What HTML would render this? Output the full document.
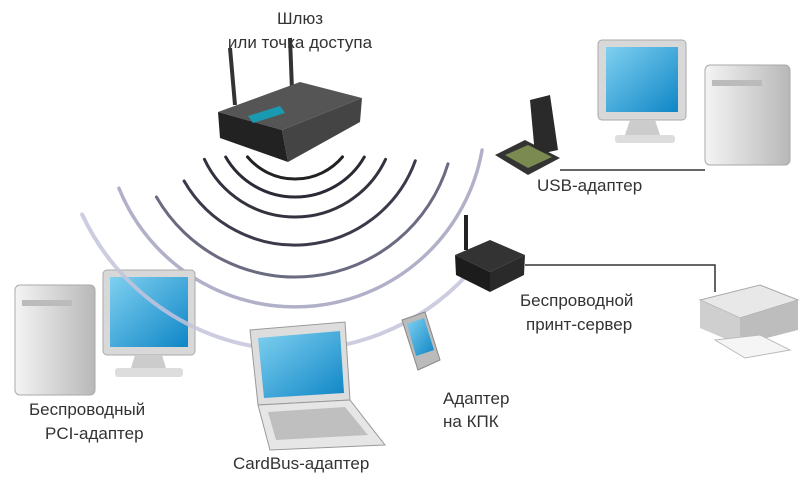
<!DOCTYPE html>
<html><head><meta charset="utf-8"><style>
body{margin:0;background:#fff;}
svg{display:block}
text{font-family:"Liberation Sans",sans-serif;font-size:17px;fill:#333;}
</style></head><body>
<svg width="800" height="496" viewBox="0 0 800 496" xmlns="http://www.w3.org/2000/svg">
<defs>
<linearGradient id="scr" x1="0" y1="0" x2="1" y2="1"><stop offset="0" stop-color="#7fd0f0"/><stop offset="1" stop-color="#0f86c6"/></linearGradient>
<linearGradient id="tow" x1="0" x2="1"><stop offset="0" stop-color="#f4f4f4"/><stop offset="1" stop-color="#b8b8b8"/></linearGradient>
</defs>
<!-- arcs -->
<g fill="none" stroke-linecap="round">
<path d="M118.9,188.2 A190,190 0 0 0 482.1,150" stroke="#b0b0c8" stroke-width="3.5"/>
<path d="M156.4,197 A160,160 0 0 0 448,163.8" stroke="#6a6a80" stroke-width="3"/>
<path d="M184.1,181 A128,128 0 0 0 415.3,160.8" stroke="#3a3a4a" stroke-width="3"/>
<path d="M204.4,159.3 A100,100 0 0 0 385.6,159.3" stroke="#333340" stroke-width="3"/>
<path d="M225.7,157 A80,80 0 0 0 364.3,157" stroke="#2a2a35" stroke-width="3"/>
<path d="M247.5,156.9 A62,62 0 0 0 342.5,156.9" stroke="#222" stroke-width="3"/>
</g>
<!-- router -->
<g>
<line x1="235" y1="105" x2="230" y2="48" stroke="#333" stroke-width="4"/>
<line x1="292" y1="90" x2="290" y2="38" stroke="#333" stroke-width="4"/>
<polygon points="218,112 300,82 362,98 282,130" fill="#555"/>
<polygon points="218,112 282,130 288,162 220,138" fill="#222"/>
<polygon points="282,130 362,98 360,122 288,162" fill="#444"/>
<polygon points="248,116 280,106 285,113 253,123" fill="#1a9ab0"/>
</g>
<!-- top right monitor + tower -->
<rect x="598" y="40" width="88" height="80" rx="4" fill="#d8d8d8" stroke="#aaa"/>
<rect x="606" y="47" width="72" height="65" fill="url(#scr)"/>
<polygon points="630,120 655,120 660,135 625,135" fill="#ccc"/>
<rect x="615" y="135" width="60" height="8" rx="3" fill="#ddd"/>
<rect x="705" y="65" width="85" height="100" rx="5" fill="url(#tow)" stroke="#aaa"/>
<rect x="712" y="80" width="50" height="6" fill="#bbb"/>
<!-- USB adapter -->
<polygon points="495,155 525,140 560,158 528,175" fill="#333"/>
<polygon points="530,100 550,95 558,150 535,155" fill="#2a2a2a"/>
<polygon points="505,155 528,145 552,157 528,168" fill="#7a8a50"/>
<line x1="560" y1="170" x2="705" y2="170" stroke="#333" stroke-width="1.5"/>
<text x="537" y="191">USB-адаптер</text>
<!-- left tower + monitor -->
<rect x="15" y="285" width="80" height="110" rx="5" fill="url(#tow)" stroke="#aaa"/>
<rect x="22" y="300" width="50" height="6" fill="#bbb"/>
<rect x="103" y="270" width="92" height="85" rx="4" fill="#d8d8d8" stroke="#aaa"/>
<rect x="110" y="277" width="78" height="70" fill="url(#scr)"/>
<polygon points="135,355 162,355 166,368 131,368" fill="#ccc"/>
<rect x="115" y="368" width="68" height="9" rx="3" fill="#ddd"/>
<!-- outer ring -->
<path d="M82.1,214.4 A235,235 0 0 0 466.8,275.3" fill="none" stroke="#c4c4dc" stroke-width="4" stroke-opacity="0.85" stroke-linecap="round"/>
<!-- print server -->
<line x1="466" y1="215" x2="466" y2="250" stroke="#222" stroke-width="4"/>
<polygon points="455,255 490,240 525,255 490,272" fill="#333"/>
<polygon points="455,255 490,272 490,292 456,275" fill="#1c1c1c"/>
<polygon points="490,272 525,255 524,275 490,292" fill="#2a2a2a"/>
<polyline points="525,265 715,265 715,292" fill="none" stroke="#333" stroke-width="1.5"/>
<text x="520" y="306">Беспроводной</text>
<text x="526" y="330">принт-сервер</text>
<!-- printer -->
<polygon points="700,300 760,285 798,300 740,318" fill="#e8e8e8" stroke="#aaa"/>
<polygon points="700,300 740,318 740,345 700,328" fill="#cfcfcf"/>
<polygon points="740,318 798,300 798,330 740,345" fill="#bdbdbd"/>
<polygon points="715,340 760,335 790,350 745,358" fill="#f5f5f5" stroke="#bbb"/>
<!-- PDA -->
<polygon points="402,320 425,312 440,360 418,370" fill="#bbb" stroke="#888"/>
<polygon points="407,324 424,318 434,350 416,356" fill="url(#scr)"/>
<text x="443" y="404">Адаптер</text>
<text x="443" y="427">на КПК</text>
<!-- laptop -->
<polygon points="250,330 345,322 350,400 258,405" fill="#ddd" stroke="#999"/>
<polygon points="258,338 340,331 344,393 264,398" fill="url(#scr)"/>
<polygon points="258,405 350,400 385,445 270,450" fill="#e6e6e6" stroke="#999"/>
<polygon points="268,412 345,407 368,435 276,440" fill="#bfbfbf"/>
<text x="233" y="469">CardBus-адаптер</text>
<text x="29" y="415">Беспроводный</text>
<text x="45" y="439">PCI-адаптер</text>
<!-- title -->
<text x="300" y="24" text-anchor="middle">Шлюз</text>
<text x="300" y="48" text-anchor="middle">или точка доступа</text>
</svg>
</body></html>
